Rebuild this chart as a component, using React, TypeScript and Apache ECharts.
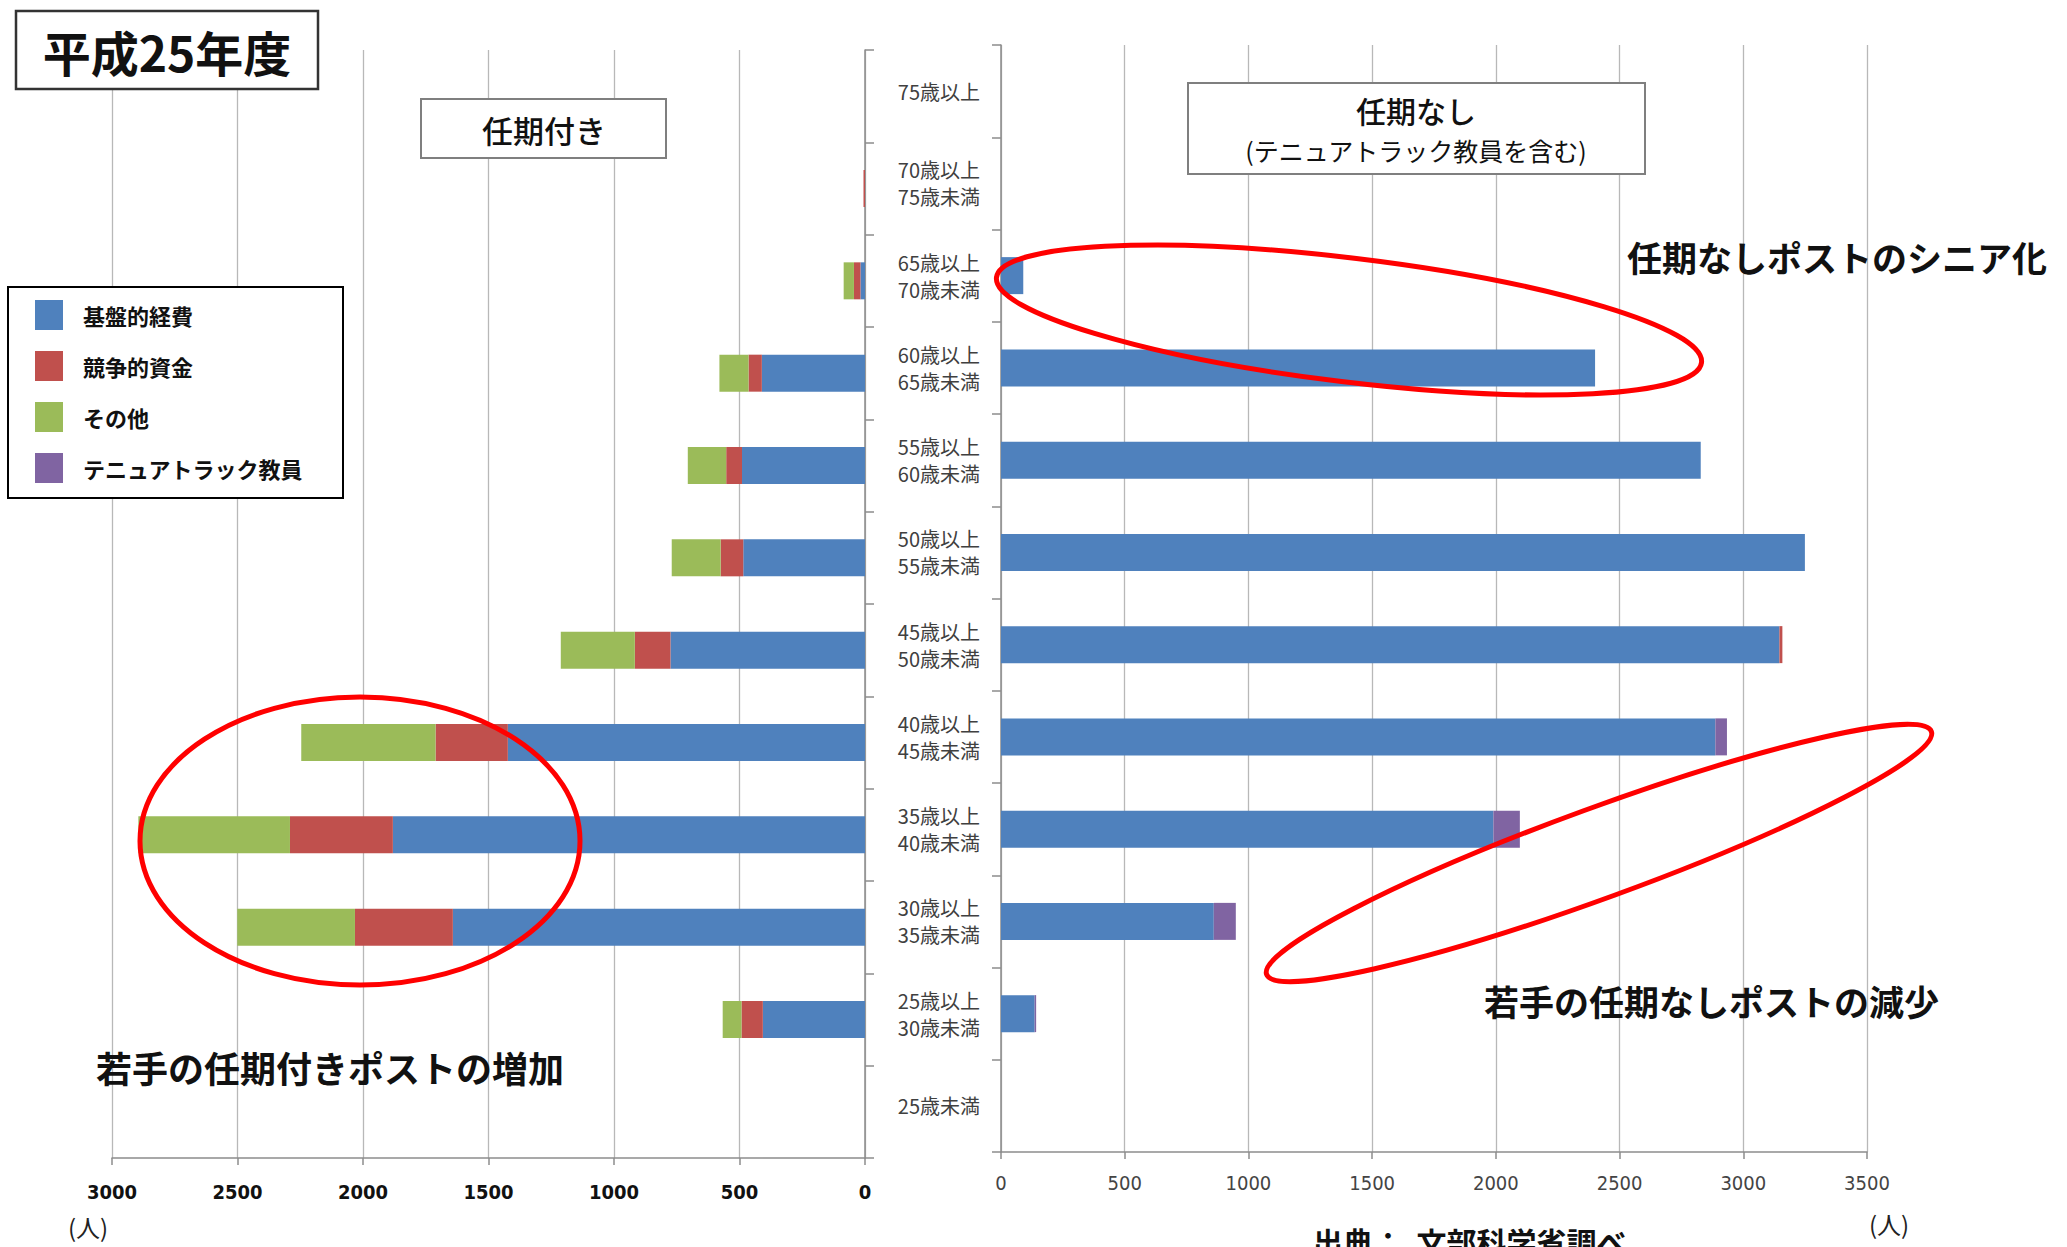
import React, { useEffect, useRef } from "react";
import * as echarts from "echarts";

const categories = [
  "75歳以上",
  "70歳以上\n75歳未満",
  "65歳以上\n70歳未満",
  "60歳以上\n65歳未満",
  "55歳以上\n60歳未満",
  "50歳以上\n55歳未満",
  "45歳以上\n50歳未満",
  "40歳以上\n45歳未満",
  "35歳以上\n40歳未満",
  "30歳以上\n35歳未満",
  "25歳以上\n30歳未満",
  "25歳未満",
];

// 任期付き (left)
const fixedBase = [0, 0, 18, 411, 490, 485, 775, 1423, 1881, 1642, 407, 0];
const fixedComp = [0, 6, 26, 53, 63, 90, 142, 288, 410, 390, 85, 0];
const fixedOther = [0, 0, 41, 116, 153, 195, 295, 535, 604, 469, 75, 0];

// 任期なし (right)
const permBase = [0, 0, 90, 2401, 2828, 3249, 3146, 2887, 1990, 860, 136, 0];
const permComp = [0, 0, 0, 0, 0, 0, 12, 0, 0, 0, 0, 0];
const permTenure = [0, 0, 0, 0, 0, 0, 0, 47, 107, 89, 6, 0];

const leftTicks = { min: 0, max: 3000, interval: 500 };
const rightTicks = { min: 0, max: 3500, interval: 500 };

const seriesNames = ["基盤的経費", "競争的資金", "その他", "テニュアトラック教員"];
const colors = { base: "#4F81BD", comp: "#C0504D", other: "#9BBB59", tenure: "#8064A2" };

const JP = "'Noto Sans CJK JP', 'Noto Sans', sans-serif";
const NUM = "'DejaVu Sans Condensed', 'Liberation Sans', sans-serif";

export default function App() {
  const ref = useRef<HTMLDivElement>(null);

  useEffect(() => {
    if (!ref.current) return;
    const chart = echarts.init(ref.current, undefined, { renderer: "svg" });
    const axisLineStyle = { color: "#8c8c8c", width: 1.5 };
    const gridLine = { lineStyle: { color: "#b8b8b8", width: 1.3 } };
    const barW = 37;
    const plain = (v: number) => String(v);

    const option: any = {
      animation: false,
      backgroundColor: "#ffffff",
      grid: [
        { left: 112, top: 50, width: 753, height: 1108 },
        { left: 1001, top: 45, width: 866, height: 1107 },
      ],
      xAxis: [
        {
          gridIndex: 0,
          type: "value",
          inverse: true,
          ...leftTicks,
          axisLine: { show: true, lineStyle: axisLineStyle },
          axisTick: { show: true, length: 7, lineStyle: axisLineStyle },
          axisLabel: { margin: 24, fontSize: 20, fontWeight: "bold", color: "#111", fontFamily: NUM, formatter: plain },
          splitLine: gridLine,
        },
        {
          gridIndex: 1,
          type: "value",
          ...rightTicks,
          axisLine: { show: true, lineStyle: axisLineStyle },
          axisTick: { show: true, length: 7, lineStyle: axisLineStyle },
          axisLabel: { margin: 21, fontSize: 20, color: "#444", fontFamily: NUM, formatter: plain },
          splitLine: gridLine,
        },
      ],
      yAxis: [
        {
          gridIndex: 0,
          type: "category",
          data: categories,
          inverse: true,
          position: "right",
          axisLine: { show: true, lineStyle: axisLineStyle },
          axisTick: { show: true, length: 9, lineStyle: axisLineStyle },
          axisLabel: { show: false },
        },
        {
          gridIndex: 1,
          type: "category",
          data: categories,
          inverse: true,
          position: "left",
          axisLine: { show: true, lineStyle: axisLineStyle },
          axisTick: { show: true, length: 9, lineStyle: axisLineStyle },
          axisLabel: { margin: 21, fontSize: 20, lineHeight: 27, color: "#404040", fontFamily: JP },
        },
      ],
      legend: {
        left: 8,
        top: 287,
        orient: "vertical",
        icon: "rect",
        itemWidth: 28,
        itemHeight: 30,
        itemGap: 21,
        padding: [13, 40, 15, 27],
        borderColor: "#000",
        borderWidth: 2,
        backgroundColor: "#fff",
        selectedMode: false,
        data: seriesNames,
        textStyle: { fontSize: 22, fontWeight: "bold", color: "#111", fontFamily: JP, padding: [0, 0, 0, 15] },
      },
      series: [
        { name: "基盤的経費", type: "bar", stack: "L", xAxisIndex: 0, yAxisIndex: 0, barWidth: barW, data: fixedBase, itemStyle: { color: colors.base } },
        { name: "競争的資金", type: "bar", stack: "L", xAxisIndex: 0, yAxisIndex: 0, barWidth: barW, data: fixedComp, itemStyle: { color: colors.comp } },
        { name: "その他", type: "bar", stack: "L", xAxisIndex: 0, yAxisIndex: 0, barWidth: barW, data: fixedOther, itemStyle: { color: colors.other } },
        { name: "基盤的経費", type: "bar", stack: "R", xAxisIndex: 1, yAxisIndex: 1, barWidth: barW, data: permBase, itemStyle: { color: colors.base } },
        { name: "競争的資金", type: "bar", stack: "R", xAxisIndex: 1, yAxisIndex: 1, barWidth: barW, data: permComp, itemStyle: { color: colors.comp } },
        { name: "テニュアトラック教員", type: "bar", stack: "R", xAxisIndex: 1, yAxisIndex: 1, barWidth: barW, data: permTenure, itemStyle: { color: colors.tenure } },
      ],
      graphic: [
        { type: "rect", z: 100, shape: { x: 16, y: 11, width: 302, height: 78 }, style: { fill: "#fff", stroke: "#333", lineWidth: 2.5 } },
        { type: "text", z: 101, x: 167, y: 51, style: { text: "平成25年度", fontSize: 48, fontWeight: "bold", fontFamily: JP, fill: "#111", align: "center", verticalAlign: "middle" } },
        { type: "rect", z: 100, shape: { x: 421, y: 99, width: 245, height: 59 }, style: { fill: "#fff", stroke: "#7f7f7f", lineWidth: 2 } },
        { type: "text", z: 101, x: 544, y: 129, style: { text: "任期付き", fontSize: 31, fontWeight: 500, fontFamily: JP, fill: "#111", align: "center", verticalAlign: "middle" } },
        { type: "rect", z: 100, shape: { x: 1188, y: 83, width: 457, height: 91 }, style: { fill: "#fff", stroke: "#7f7f7f", lineWidth: 2 } },
        { type: "text", z: 101, x: 1416, y: 110, style: { text: "任期なし", fontSize: 30, fontWeight: 500, fontFamily: JP, fill: "#111", align: "center", verticalAlign: "middle" } },
        { type: "text", z: 101, x: 1416, y: 150, style: { text: "(テニュアトラック教員を含む)", fontSize: 25, fontFamily: JP, fill: "#111", align: "center", verticalAlign: "middle" } },
        { type: "text", z: 101, x: 1627, y: 256, style: { text: "任期なしポストのシニア化", fontSize: 35, fontWeight: "bold", fontFamily: JP, fill: "#111", align: "left", verticalAlign: "middle" } },
        { type: "text", z: 101, x: 1484, y: 1000, style: { text: "若手の任期なしポストの減少", fontSize: 35, fontWeight: "bold", fontFamily: JP, fill: "#111", align: "left", verticalAlign: "middle" } },
        { type: "text", z: 101, x: 96, y: 1067, style: { text: "若手の任期付きポストの増加", fontSize: 36, fontWeight: "bold", fontFamily: JP, fill: "#111", align: "left", verticalAlign: "middle" } },
        { type: "text", z: 101, x: 1313, y: 1226, style: { text: "出典：  文部科学省調べ", fontSize: 30, fontWeight: "bold", fontFamily: JP, fill: "#111", align: "left", verticalAlign: "top" } },
        { type: "text", z: 101, x: 88, y: 1226, style: { text: "(人)", fontSize: 24, fontFamily: JP, fill: "#222", align: "center", verticalAlign: "middle" } },
        { type: "text", z: 101, x: 1889, y: 1223, style: { text: "(人)", fontSize: 24, fontFamily: JP, fill: "#222", align: "center", verticalAlign: "middle" } },
        { type: "ellipse", z: 110, x: 1349, y: 320, rotation: -0.12, shape: { cx: 0, cy: 0, rx: 355, ry: 62 }, style: { fill: "none", stroke: "#ff0000", lineWidth: 5 } },
        { type: "ellipse", z: 110, x: 1599, y: 853, rotation: 0.35, shape: { cx: 0, cy: 0, rx: 354, ry: 45 }, style: { fill: "none", stroke: "#ff0000", lineWidth: 5 } },
        { type: "ellipse", z: 110, x: 360, y: 841, shape: { cx: 0, cy: 0, rx: 220, ry: 144 }, style: { fill: "none", stroke: "#ff0000", lineWidth: 5 } },
      ],
    };

    chart.setOption(option);
    return () => chart.dispose();
  }, []);

  return <div ref={ref} style={{ position: "fixed", left: 0, top: 0, width: 2067, height: 1247, background: "#fff" }} />;
}
